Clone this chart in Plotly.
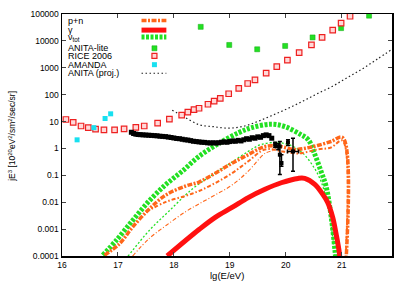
import plotly.graph_objects as go

# ---------------- data (lg(E/eV), jE^3 in 1e20 eV^2/m^2/s/sr) ----------------
pn_x = [16.76, 17.03, 17.26, 17.56, 17.86, 18.21, 18.45, 18.74, 19.04, 19.33, 19.63, 19.87, 20.16, 20.40, 20.57, 20.81, 21.018, 21.025]
pn_y = [1.07e-4, 2.88e-4, 1.17e-3, 5.57e-3, 0.0187, 0.0401, 0.0562, 0.1205, 0.281, 0.586, 1.19, 1.22, 0.918, 1.06, 1.29, 1.81, 2.54, 1e-6]

pn2_x = [17.50, 17.86, 18.21, 18.45, 18.74, 19.04, 19.33, 19.63, 19.95, 20.22, 20.57, 20.81, 21.013, 21.02]
pn2_y = [4.3e-3, 0.01035, 0.0172, 0.0262, 0.0516, 0.1205, 0.333, 0.918, 0.776, 0.655, 0.918, 1.09, 1.97, 1e-6]

pn3_x = [17.26, 17.56, 17.86, 18.21, 18.45, 18.74, 19.04, 19.33, 19.63, 19.80]
pn3_y = [9.8e-5, 4.5e-4, 1.36e-3, 4.44e-3, 8.7e-3, 0.0187, 0.0436, 0.1426, 0.655, 0.85]

gam_x = [17.88, 18.45, 18.74, 19.04, 19.33, 19.63, 19.92, 20.22, 20.34, 20.52, 20.66, 20.75, 20.84, 20.90, 20.96, 20.975]
gam_y = [1.0e-4, 9.66e-4, 2.74e-3, 6.38e-3, 0.0149, 0.0303, 0.053, 0.0769, 0.0769, 0.046, 0.0199, 0.00975, 0.00274, 6.7e-4, 1.24e-4, 4e-5]

nu_x = [16.73, 16.97, 17.26, 17.56, 17.86, 18.15, 18.45, 18.80, 19.16, 19.39, 19.74, 19.99, 20.27, 20.40, 20.52, 20.63, 20.72, 20.81, 20.88, 20.90]
nu_y = [1.07e-4, 3.81e-4, 2.07e-3, 0.01125, 0.0462, 0.1427, 0.508, 1.53, 3.87, 5.92, 7.96, 6.44, 3.27, 2.14, 0.60, 0.143, 0.040, 0.00316, 1.63e-4, 5e-5]

nu2_x = [17.18, 17.56, 17.92, 18.33, 18.68, 18.98, 19.33, 19.56, 19.87, 20.13, 20.31, 20.49, 20.63, 20.75, 20.86, 20.89]
nu2_y = [9.8e-5, 8.9e-4, 4.83e-3, 0.0311, 0.1017, 0.258, 0.776, 1.40, 1.66, 1.19, 0.655, 0.218, 0.0612, 7.4e-3, 2.5e-4, 5e-5]

anita_lite_x = [18.48, 18.99, 19.49, 19.99, 20.48, 20.99, 21.49]
anita_lite_y = [33300, 7060, 4870, 6490, 13450, 29800, 86600]

rice_x = [16.07, 16.20, 16.34, 16.47, 16.60, 16.75, 16.94, 17.11, 17.32, 17.47, 17.71, 17.92, 18.14, 18.25, 18.36, 18.45,
          18.61, 18.72, 18.83, 18.98, 19.16, 19.32, 19.45, 19.65, 19.84, 20.03, 20.24, 20.46, 20.65, 20.84, 20.99, 21.15]
rice_y = [11.9, 9.27, 6.83, 5.92, 5.2, 4.87, 4.87, 5.3, 6.07, 6.83, 8.8, 12.4, 17.3, 22.3, 27.9, 31.3,
          44, 58, 73, 108, 171, 260, 353, 638, 1096, 1919, 3680, 7063, 13450, 25150, 45500, 82300]

amanda_x = [16.27, 16.57, 16.77, 16.87]
amanda_y = [2.09, 5.92, 13.0, 19.4]

anita_x = [17.97, 18.18, 18.45, 18.71, 18.98, 19.25, 19.51, 19.78, 20.04, 20.31, 20.57, 20.84, 21.11, 21.37, 21.64, 21.90]
anita_y = [26.5, 15.1, 7.63, 6.44, 5.67, 6.72, 10.3, 17.8, 30.8, 58, 110, 207, 444, 912, 2125, 4870]

cr_x = [17.24, 17.28, 17.32, 17.36, 17.40, 17.45, 17.50, 17.55, 17.60, 17.65, 17.70, 17.75, 17.80, 17.85, 17.90, 17.95,
        18.00, 18.05, 18.10, 18.15, 18.20, 18.25, 18.30, 18.35, 18.40, 18.45, 18.50, 18.55, 18.60, 18.65, 18.70, 18.75,
        18.80, 18.85, 18.90, 18.95, 19.00, 19.05, 19.10, 19.15, 19.20, 19.25, 19.30, 19.35, 19.40, 19.45, 19.50, 19.55,
        19.60, 19.65, 19.70, 19.75]
cr_y = [4.0, 3.6, 3.4, 3.3, 3.25, 3.2, 3.15, 3.1, 3.05, 3.0, 2.95, 2.85, 2.8, 2.75, 2.65, 2.55,
        2.45, 2.35, 2.3, 2.2, 2.1, 2.05, 1.95, 1.85, 1.8, 1.75, 1.7, 1.68, 1.62, 1.6, 1.62, 1.6,
        1.62, 1.7, 1.75, 1.7, 1.8, 1.9, 1.85, 2.0, 1.9, 2.1, 2.3, 2.2, 2.5, 2.4, 2.7, 2.6,
        3.0, 3.2, 3.0, 2.4]

uhe_x = [19.81, 19.865, 19.895, 19.924, 20.04, 20.13]
uhe_y = [1.40, 1.19, 0.586, 0.288, 1.69, 0.776]
uhe_up = [0.3, 0.35, 1.22, 0.3, 0.4, 1.61]
uhe_dn = [0.3, 0.3, 0.478, 0.07, 0.4, 0.633]
uhe_xe = [0.0, 0.05, 0.0, 0.0, 0.0, 0.1]

xticks = [16, 17, 18, 19, 20, 21]
yticks = [1e-4, 1e-3, 1e-2, 1e-1, 1, 10, 100, 1000, 10000, 100000]
yticklabels = ["0.0001", "0.001", "0.01", "0.1", "1", "10", "100", "1000", "10000", "100000"]

legend_labels = ["p+n", "γ", "ν<sub>tot</sub>", "ANITA-lite", "RICE 2006", "AMANDA", "ANITA (proj.)"]

# ---------------- styles ----------------
GREEN = "#22e022"
RED = "#ff1010"
ORANGE = "#ff6619"
FONT = "Liberation Sans, Arial, sans-serif"
D_NU = "3px,1.5px"
D_NU2 = "2px,2px"
D_PN = "5px,1.5px,2px,1.5px"
D_PN2 = "4px,2px,1.5px,2px"
D_PN3 = "4px,2px,1px,2px"
D_AN = "1.5px,2.5px"

fig = go.Figure()

fig.add_trace(go.Scatter(x=nu2_x, y=nu2_y, mode="lines", line=dict(color=GREEN, width=1.3, dash=D_NU2, shape="spline")))
fig.add_trace(go.Scatter(x=pn3_x, y=pn3_y, mode="lines", line=dict(color=ORANGE, width=1.1, dash=D_PN3, shape="spline")))
fig.add_trace(go.Scatter(x=nu_x, y=nu_y, mode="lines", line=dict(color=GREEN, width=5, dash=D_NU, shape="spline")))
fig.add_trace(go.Scatter(x=gam_x, y=gam_y, mode="lines", line=dict(color=RED, width=5, shape="spline")))
fig.add_trace(go.Scatter(x=pn2_x, y=pn2_y, mode="lines", line=dict(color=ORANGE, width=2, dash=D_PN2, shape="spline")))
fig.add_trace(go.Scatter(x=pn_x, y=pn_y, mode="lines", line=dict(color=ORANGE, width=3.5, dash=D_PN, shape="spline")))

fig.add_trace(go.Scatter(x=anita_x, y=anita_y, mode="lines", line=dict(color="#222222", width=1.2, dash=D_AN, shape="spline")))
fig.add_trace(go.Scatter(x=anita_lite_x, y=anita_lite_y, mode="markers",
                         marker=dict(symbol="square", size=5, color=GREEN, line=dict(color="#11aa11", width=0.5))))
fig.add_trace(go.Scatter(x=rice_x, y=rice_y, mode="markers",
                         marker=dict(symbol="square", size=5.5, color="#ffd8d8", line=dict(color="#ee2020", width=1.2))))
fig.add_trace(go.Scatter(x=amanda_x, y=amanda_y, mode="markers",
                         marker=dict(symbol="square", size=5, color="#18e0f0", line=dict(width=0))))

fig.add_trace(go.Scatter(x=cr_x, y=cr_y, mode="markers",
                         marker=dict(symbol="square", size=5, color="black", line=dict(width=0))))
fig.add_trace(go.Scatter(x=uhe_x, y=uhe_y, mode="markers",
                         marker=dict(symbol="square", size=4, color="black"),
                         error_y=dict(type="data", symmetric=False, array=uhe_up, arrayminus=uhe_dn,
                                      color="black", thickness=1.5, width=2),
                         error_x=dict(type="data", array=uhe_xe, color="black", thickness=1.5, width=2)))

# ---------------- custom gnuplot-style key (text left, sample right) ----------------
def xp(px):
    return (px - 62) / 332.0

def yp(py):
    return (256 - py) / 245.0

ann = []
text_y = [18.5, 27.0, 35.0, 45.2, 53.6, 62.3, 71.0]
for lab, ty in zip(legend_labels, text_y):
    ann.append(dict(x=xp(66), y=yp(ty), xref="paper", yref="paper", text=lab, showarrow=False,
                    xanchor="left", yanchor="middle", font=dict(family=FONT, size=9, color="black")))

shapes = []
for ly, col, w, dash in [(17.7, ORANGE, 3.5, D_PN), (27.3, RED, 5, "solid"), (34.3, GREEN, 5, D_NU),
                         (71.0, "#222222", 1.2, D_AN)]:
    shapes.append(dict(type="line", xref="paper", yref="paper", x0=xp(142), x1=xp(167), y0=yp(ly), y1=yp(ly),
                       line=dict(color=col, width=w, dash=dash)))
for my, fill, lc, lw in [(45.7, GREEN, "#11aa11", 0.5), (53.3, "#ffd8d8", "#ee2020", 1.2), (62.3, "#18e0f0", "#18e0f0", 0)]:
    shapes.append(dict(type="rect", xref="paper", yref="paper", xsizemode="pixel", ysizemode="pixel",
                       xanchor=xp(155), yanchor=yp(my), x0=-2.5, x1=2.5, y0=-2.5, y1=2.5,
                       fillcolor=fill, line=dict(color=lc, width=lw)))

# axis titles
ann.append(dict(x=0.5, y=yp(276), xref="paper", yref="paper", text="lg(E/eV)", showarrow=False,
                xanchor="center", yanchor="middle", font=dict(family=FONT, size=9.5, color="black")))
ann.append(dict(x=xp(12), y=yp(135), xref="paper", yref="paper",
                text="jE<sup>3</sup> [10<sup>20</sup>eV<sup>2</sup>/sm<sup>2</sup>/sec/sr]", showarrow=False,
                textangle=-90, xanchor="center", yanchor="middle", font=dict(family=FONT, size=8.5, color="black")))

fig.update_layout(
    width=403, height=283,
    margin=dict(l=62, r=9, t=11, b=27),
    paper_bgcolor="white", plot_bgcolor="white",
    showlegend=False, hovermode=False,
    annotations=ann, shapes=shapes,
    font=dict(family=FONT, size=8.5, color="black"),
)
fig.update_xaxes(range=[16, 21.9], tickvals=xticks, ticks="inside", ticklen=4, tickwidth=1,
                 showline=True, linecolor="black", linewidth=1.5, mirror="allticks", showgrid=False, zeroline=False,
                 tickfont=dict(family=FONT, size=8.5, color="black"))
fig.update_yaxes(type="log", range=[-4, 5], tickvals=yticks, ticktext=yticklabels, ticks="inside", ticklen=4,
                 tickwidth=1, showline=True, linecolor="black", linewidth=1.5, mirror="allticks", showgrid=False,
                 zeroline=False, tickfont=dict(family=FONT, size=8.5, color="black"))

fig.write_html("out.html", config={"displayModeBar": False, "staticPlot": True},
               post_script="document.body.style.margin='0';document.body.style.padding='0';"
                           "document.documentElement.style.overflow='hidden';")
